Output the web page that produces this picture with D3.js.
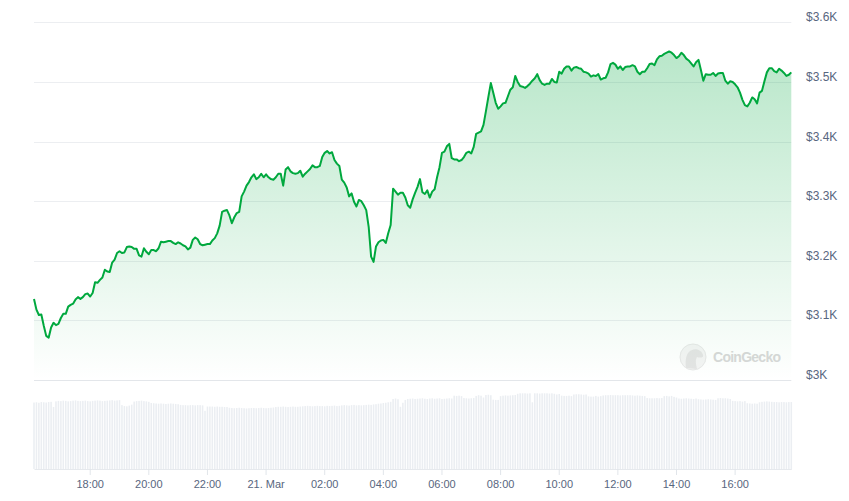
<!DOCTYPE html>
<html>
<head>
<meta charset="utf-8">
<script src="https://cdn.jsdelivr.net/npm/d3@7"></script>
<style>
body{margin:0;background:#fff;}
svg{display:block;font-family:"Liberation Sans",Arial,sans-serif;}
</style>
</head>
<body>
<div id="chart"></div>
<script>
// 5 minute samples starting 20 Mar 16:06
var startTime=new Date(2024,2,20,16,6);
var stepMinutes=5;

// price in USD
var priceValues=[
3136,3118,3109,3110,3091,3074,3071,3088,3096,3092,
3094,3104,3111,3111,3123,3126,3128,3135,3139,3136,
3139,3144,3145,3140,3146,3164,3163,3168,3172,3185,
3182,3181,3197,3202,3213,3216,3213,3214,3223,3224,
3223,3220,3220,3209,3207,3221,3215,3211,3218,3218,
3216,3221,3232,3231,3232,3233,3233,3230,3228,3231,
3229,3226,3224,3219,3222,3235,3239,3236,3228,3226,
3227,3228,3228,3234,3238,3246,3259,3282,3284,3285,
3276,3263,3273,3280,3282,3308,3316,3326,3332,3340,
3345,3337,3340,3346,3340,3345,3340,3337,3336,3340,
3346,3346,3326,3353,3357,3350,3347,3346,3347,3351,
3341,3346,3350,3354,3360,3357,3357,3359,3374,3381,
3384,3380,3382,3369,3363,3359,3336,3331,3323,3308,
3313,3299,3291,3302,3300,3293,3285,3257,3207,3198,
3224,3231,3234,3235,3230,3246,3260,3321,3316,3311,
3314,3314,3306,3293,3289,3303,3314,3324,3337,3315,
3312,3318,3306,3316,3320,3340,3357,3381,3383,3392,
3396,3372,3370,3370,3367,3369,3374,3381,3383,3380,
3391,3413,3415,3417,3428,3451,3475,3498,3482,3465,
3455,3459,3464,3465,3476,3487,3491,3510,3500,3493,
3492,3490,3493,3497,3502,3506,3513,3503,3497,3495,
3497,3497,3505,3500,3499,3517,3514,3522,3526,3526,
3519,3524,3525,3523,3522,3517,3516,3514,3509,3511,
3510,3513,3504,3506,3507,3516,3530,3532,3529,3522,
3526,3520,3525,3526,3526,3528,3526,3517,3513,3517,
3517,3523,3530,3531,3528,3538,3543,3544,3547,3549,
3551,3549,3545,3540,3543,3549,3545,3539,3536,3531,
3526,3533,3537,3520,3502,3513,3512,3512,3515,3510,
3514,3515,3515,3502,3497,3501,3500,3496,3491,3482,
3470,3461,3459,3465,3474,3471,3464,3482,3485,3501,
3516,3523,3523,3518,3516,3522,3519,3515,3510,3512,3516
];

// volume in billions USD
var volumeValues=[
28.1,28.2,28.0,28.3,28.2,28.1,28.3,28.4,26.2,28.6,
28.8,28.7,28.9,28.8,28.6,28.7,28.9,29.0,28.8,28.7,
28.8,28.9,28.7,28.6,28.8,28.9,29.0,28.9,28.7,28.8,
28.9,29.0,29.1,28.9,29.0,29.1,
27.0,26.6,26.5,26.8,27.2,
28.5,28.7,28.8,28.9,28.7,28.6,28.4,
27.9,27.8,27.7,27.6,27.7,27.6,27.5,27.6,27.7,27.6,27.5,27.4,
27.1,27.0,27.0,26.9,27.0,27.0,26.9,27.0,27.0,26.9,
24.6,26.4,26.4,26.4,26.3,26.4,26.3,26.3,26.2,26.2,
25.9,25.8,25.7,25.8,25.9,25.8,25.7,25.6,25.7,25.8,25.8,25.7,25.8,25.9,25.8,25.7,25.8,25.9,26.0,
26.2,26.3,26.3,26.4,26.3,26.2,26.3,26.4,26.3,26.3,26.4,
26.5,26.6,26.7,26.6,26.5,26.6,26.7,26.6,26.6,26.5,26.7,26.6,26.7,26.8,26.6,26.7,
26.9,27.0,26.9,26.8,27.0,27.1,26.9,27.0,26.9,27.0,27.1,27.2,27.1,27.3,27.4,
27.6,27.7,27.9,28.0,28.2,28.4,29.6,
29.8,29.5,
26.3,
28.0,
29.2,29.6,29.7,29.8,29.6,29.7,
29.8,29.9,29.7,29.6,29.8,29.9,29.7,29.8,29.9,29.6,29.7,29.8,29.9,29.8,
31.0,30.9,31.0,30.8,30.0,29.9,29.8,29.9,30.0,30.9,31.2,31.0,30.2,
31.3,31.4,31.2,
29.3,29.2,29.2,
30.8,31.0,31.1,31.0,31.1,31.2,31.3,
31.8,32.0,32.0,32.0,31.9,32.0,
28.2,
32.0,32.0,31.9,32.0,32.0,32.0,31.9,32.0,31.8,31.5,31.7,
31.0,30.9,30.9,31.0,30.8,
31.5,31.6,31.6,31.5,31.4,31.5,
30.7,30.6,30.6,30.9,30.6,30.8,
31.1,31.2,31.2,31.3,31.2,31.2,31.2,31.1,31.2,31.2,31.2,31.2,31.1,31.0,31.1,31.0,
30.9,30.8,
30.0,29.9,29.9,29.9,30.0,29.9,30.0,
30.8,30.9,30.7,30.9,30.5,30.2,
29.8,29.7,29.8,29.9,29.8,29.7,29.6,29.8,29.5,
29.4,29.3,29.4,29.5,29.4,29.3,29.2,
29.9,30.0,29.9,29.9,29.8,29.6,
28.8,28.7,28.6,28.7,28.5,28.7,
27.8,27.7,27.6,27.7,27.6,
28.2,28.4,28.5,28.6,28.5,28.4,
28.3,28.3,28.2,28.3,28.3,28.2,28.3,28.3
];

var priceTicks=[3000,3100,3200,3300,3400,3500,3600];

// build rows
var data=priceValues.map(function(p,i) {
    return {
        time:d3.timeMinute.offset(startTime,i*stepMinutes),
        price:p,
        volume:volumeValues[i]
    };
});

var svgWidth=849;
var svgHeight=501;
var plotLeft=34;
var plotRight=791.3;
var priceTop=22.3;
var priceBottom=380;
var volumeTop=393.3;
var volumeBottom=469;

var svg=d3.select("#chart")
    .append("svg")
    .attr("width",svgWidth)
    .attr("height",svgHeight);

svg.append("rect")
    .attr("width",svgWidth)
    .attr("height",svgHeight)
    .attr("fill","#fff");

// scales
var xScale=d3.scaleTime()
    .domain(d3.extent(data,d=>d.time))
    .range([plotLeft,plotRight]);

var yScale=d3.scaleLinear()
    .domain([d3.min(priceTicks),d3.max(priceTicks)])
    .range([priceBottom,priceTop]);

var volScale=d3.scaleLinear()
    .domain([0,d3.max(data,d=>d.volume)])
    .range([volumeBottom,volumeTop]);

// gradient for the area
var defs=svg.append("defs");
var grad=defs.append("linearGradient")
    .attr("id","areaFill")
    .attr("gradientUnits","userSpaceOnUse")
    .attr("x1",0).attr("y1",priceTop)
    .attr("x2",0).attr("y2",priceBottom);
grad.append("stop").attr("offset","0%").attr("stop-color","#00a83e").attr("stop-opacity",0.3);
grad.append("stop").attr("offset","100%").attr("stop-color","#00a83e").attr("stop-opacity",0.0);

// grid lines
svg.append("g")
    .selectAll("line")
    .data(priceTicks)
    .enter()
    .append("line")
    .attr("x1",plotLeft)
    .attr("x2",plotRight)
    .attr("y1",d=>Math.round(yScale(d))+0.5)
    .attr("y2",d=>Math.round(yScale(d))+0.5)
    .attr("stroke",d=>d===3000?"#e3e6ea":"#eceef1")
    .attr("stroke-width",1);

// y labels on the right
svg.append("g")
    .selectAll("text")
    .data(priceTicks)
    .enter()
    .append("text")
    .attr("x",806)
    .attr("y",d=>yScale(d)-1)
    .attr("font-size","12px")
    .attr("fill","#58667e")
    .text(d=>"$"+(d/1000)+"K");

// watermark
var mark=svg.append("g").attr("opacity",0.9);
mark.append("circle")
    .attr("cx",693)
    .attr("cy",357)
    .attr("r",13)
    .attr("fill","#f3f3f3")
    .attr("stroke","#e6e6e6");
mark.append("path")
    .attr("d","M686,368 C685,360 686,352 692,350 C697,348 702,351 703,355 C704,358 700,358 697,357 C695,360 696,364 697,369 Z")
    .attr("fill","#e2e2e2");
mark.append("text")
    .attr("x",713)
    .attr("y",362)
    .attr("font-size","14px")
    .attr("font-weight","bold")
    .attr("fill","#d4d4d4")
    .attr("textLength",68)
    .text("CoinGecko");

// price area and line
var area=d3.area()
    .x(d=>xScale(d.time))
    .y0(yScale(3000))
    .y1(d=>yScale(d.price));

var line=d3.line()
    .x(d=>xScale(d.time))
    .y(d=>yScale(d.price));

svg.append("path")
    .datum(data)
    .attr("d",area)
    .attr("fill","url(#areaFill)");

svg.append("path")
    .datum(data)
    .attr("d",line)
    .attr("fill","none")
    .attr("stroke","#00a83e")
    .attr("stroke-width",2)
    .attr("stroke-linejoin","round");

// volume bars
var barStep=xScale(data[1].time)-xScale(data[0].time);
svg.append("g")
    .selectAll("rect")
    .data(data)
    .enter()
    .append("rect")
    .attr("x",d=>xScale(d.time)-barStep/2+0.45)
    .attr("y",d=>volScale(d.volume))
    .attr("width",barStep-0.9)
    .attr("height",d=>volumeBottom-volScale(d.volume))
    .attr("fill","#ebeef2");

// x axis
var bottomAxis=d3.axisBottom(xScale)
    .ticks(d3.timeHour.every(2))
    .tickSize(6)
    .tickSizeOuter(0)
    .tickPadding(5)
    .tickFormat(function(d) {
        if (d.getHours()===0) {
            return d3.timeFormat("%-d. %b")(d);
        }
        return d3.timeFormat("%H:%M")(d);
    });

var xAxis=svg.append("g")
    .attr("transform",`translate(0,${volumeBottom})`)
    .call(bottomAxis);

xAxis.select(".domain").attr("stroke","#e6e9ed");
xAxis.selectAll(".tick line").attr("stroke","#e1e5ea");
xAxis.selectAll("text")
    .attr("font-size","11px")
    .attr("font-family","'Liberation Sans',Arial,sans-serif")
    .attr("fill","#58667e");
</script>
</body>
</html>
